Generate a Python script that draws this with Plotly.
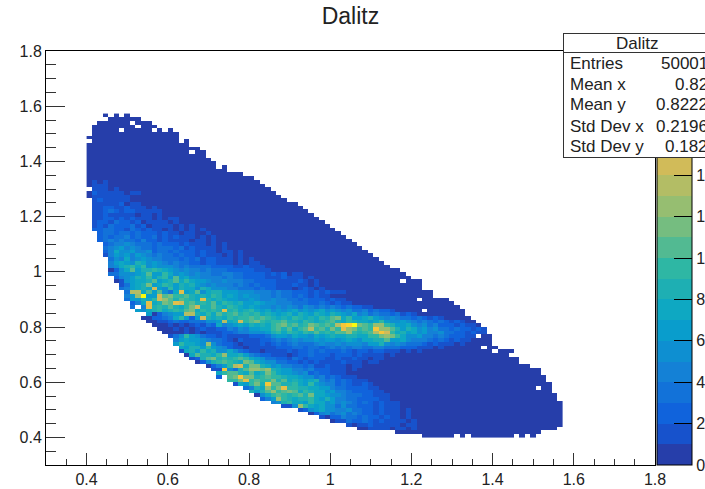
import plotly.graph_objects as go

TITLE = "Dalitz"
X_ORIGIN = 0.4
Y_ORIGIN = 0.4
BIN_WIDTH = 0.013333
N_COLS = 88

# one entry per row of bins, top row first
ROW_FIRST = [3,4,2,1,1,1,0,1,0,0,0,0,0,0,0,0,0,0,0,0,0,0,0,0,1,1,1,1,1,1,1,1,2,2,2,3,3,3,3,4,4,4,4,4,5,5,6,6,7,7,7,8,8,9,11,10,11,12,13,14,15,16,16,17,17,18,19,20,22,23,24,24,26,27,29,30,31,32,34,36,39,41,43,45,48,50,57,62]
ROW_LAST = [7,9,11,12,15,16,16,18,18,20,21,21,22,23,25,26,28,30,31,32,33,34,35,36,38,39,40,41,42,43,44,45,46,47,48,49,50,51,52,53,54,55,57,58,59,61,61,61,63,63,66,67,68,69,69,70,71,72,73,73,74,74,74,75,78,77,79,79,81,83,83,84,84,85,85,85,86,86,87,87,87,87,87,87,87,86,83,82]
# colour level of each bin from ROW_FIRST on: 0-9, a=10 ... j=19; '.' = empty; bins past the string are level 0
ROW_LEVELS = [
"","","","","","","","","","","","","","","","","","",
"0101","01110",".1110100","0211111011","01111111",".12111110",
"11111201100","1122112111010","11232122111110","1121111101101",
"1122121211101011","12213221201111010","1213222312011110101","223322132121101010101",
"233233232221211011001","2323342322312121110101","2343433242212111101101",
"23445433323222121110101","345645433233323121 1 1 1 0 1","24755644523323222121101101",
"1465646543433232212111 0101","3547456544333232312 2111 01 01","46765875654343322122 111 01 011",
"4578979565554343333222211211100","0257a6889876545443433322222111",
"3355567a6697565454433443322221212011","24568796896a6755444434332222111211101",
"0156778a678a79766544544433222211112101","13678b6798687865454443432322211121101",
"346787e6596877587555443332322111012101",
"3dd7a6a537f67a578866655544434332221212111 0",
"46cj66ea b 9 9 a 8 7 8 7 9 8 6 7 6 5 6 5 5 4 4 3 4 3 3 2 3 2 1 2 1 1",
"3668 79ec a8a9 87f8 7876 6556 5445 4433 2322 2121 1",
"2 4 7 f 7 8 b a f e 9 a 8 9 8 a 7 9 8 7 8 6 6 7 6 5 5 4 4 4 3 3 3 2 2 3 2 1 2 1 1",
"3 . 4 f 8 9 8 a 8 7 9 b e 8 8 a 8 7 9 8 7 6 7 6 5 5 4 5 4 5 4 3 5 4 3 4 3 4 3 2 3 2 2 1 1",
"6 5 7 8 9 7 8 9 8 a b 7 9 8 9 8 f 8 9 7 8 9 7 6 7 5 6 5 6 7 5 6 5 6 7 5 6 5 4 5 3 3 4 2 3 2 2 1",
"6 0 2 4 5 6 6 d d 8 7 9 7 a 8 9 a 8 9 8 9 7 8 7 6 7 8 6 8 7 6 8 7 6 8 7 6 5 7 4 5 3 4 3 3 2 3 1 2 1",
"0 0 2 2 3 4 7 9 6 2 6 e 8 7 8 7 9 8 9 9 a 9 a 9 8 7 8 7 9 8 7 8 7 9 8 a b 7 9 6 6 7 8 6 5 4 5 4 3 3 2 3 2 1 2 1",
"0 0 1 1 2 3 2 2 3 3 3 5 5 6 d 7 8 e 9 a b 9 8 9 9 a 8 8 7 9 8 7 8 9 a 8 7 9 8 7 7 6 7 9 6 5 5 6 5 4 3 4 3 2 3 2 1 2 1",
"00010101 2132 7 456768787 9ab9a89ba9a9 dghj ba9cc 9 8 6 6 7 5 4 5 3 4 2 2 2 1 2 1 1",
"000101012112 243546677 9a8a79a d 9a8b9 f c b 9a9 g c c a8687564 5 3 3 2 3 2 2 1 2 1",
"0000101011 1223445556 89798798a898a ac989adge9 7 8 6 7 5 6 4 4 5 3 3 2 2 1 2 1 1",
"135965322 1211112223 5665766576787 7 8 8 7 7 9 9 b c b 9 7 5 5 6 4 4 3 4 3 2 2 2 1 1 1",
"46766543 3210211122 3 4 3 4 5 4 5 5 6 5 6 6 5 6 7 6 5 7 7 8 8 a 6 6 7 5 4 4 4 3 2 3 2 1 2 1 1",
"69776 5c5 3221011121 2 3 2 3 4 3 3 3 4 5 4 4 5 4 5 5 5 4 6 6 8 5 4 5 4 3 3 3 2 1 2 1 1 1 0 1",
"76886965 421101111 1 2 2 2 3 3 2 3 3 2 3 4 3 4 3 4 4 3 3 4 4 3 3 3 2 2 2 1 1 1 0 1",
"1786978557532110111 1 2 1 2 2 3 2 3 2 2 2 3 2 1 2 2 1 2 2 1 1 1 0 1 0 1",
"07a8879c7786432211101 2 2 3 2 2 2 1 2 2 2 1 2 1 1 1 1 0 1",
"1 2 8 a b 8 9 8 9 a 9 7 6 5 3 3 2 2 1 3 2 1 2 2 2 1 1 2 1 1 2 1 1 0 1 1",
"0 2 5 8 9 a 9 8 7 b a 7 6 5 5 3 3 2 2 1 2 1 2 1 1 1 1 2 1 1 1 0 1 1",
"0 2 4 6 9 d e 8 b b 8 7 5 6 4 4 3 3 2 3 1 1 2 1 1 1 0 1 1",
"1 1 g 5 3 8 a c c b c 8 7 6 6 4 4 3 4 2 2 2 1 1 1 0 1",
"7 9 a a 8 7 a 7 8 b 9 7 6 6 5 4 5 2 3 2 2 1 1 1",
"2 . a b g b b 8 9 a 9 9 8 7 7 6 5 5 3 4 2 3 2 1 1 1",
"9 9 b f 9 a 9 9 b 8 a 7 8 7 6 7 8 4 3 4 2 3 2 1 1 1",
"1 7 6 9 b 8 g a a 8 8 9 7 6 9 6 5 4 4 2 3 2 1 1 2 1",
"3 4 8 7 c 9 b f 9 9 8 8 7 7 6 6 4 3 3 2 2 2 2 1 1",
"8 6 8 a c 9 a b a 7 9 8 7 7 5 6 4 4 3 2 2 2 2 1 1",
"0 5 7 9 a 9 8 9 a 8 b 7 7 6 5 5 4 3 3 3 2 2 1 1 1",
"2 4 6 c 9 8 7 8 8 9 7 6 8 6 4 4 3 3 2 2 2 2 1 1",
"4 5 8 9 7 7 6 9 7 7 5 6 4 5 4 3 2 3 2 1 2 1 1 1",
"1 1 5 c 9 7 6 7 5 5 3 5 3 3 2 2 2 1 2 1 1 1",
"1 2 5 6 7 5 5 4 4 5 3 3 2 2 1 2 1 1 1 0 1",
"0 2 4 5 3 4 5 3 4 3 2 2 1 2 1 1 1 0 1",
"1 0 2 2 4 3 3 2 3 2 2 1 2 1 1 0 1",
"0 1 1 3 2 2 3 2 1 2 1 1 1 1 0 1",
"1 0 1 1 2 1 1 1 1 1 0 1 1",
"0 0 1 1 1 1 0 1 1 0 1",
"",""]
# empty bins inside the cloud, as (row from bottom, column)
EMPTY_BINS = [(87,4),(87,6),(85,8),(84,9),(83,6),(83,12),(83,14),(80,17),(77,19),(73,24),(72,26),
              (42,58),(37,61),(34,62),(27,72),(24,73),(23,75),(13,83),
              (0,68),(0,70),(0,79),(0,81)]

Z_MAX = 20
COLOR_TICKS = [0,2,4,6,8,10,12,14,16,18]
X_TICKS = [0.4,0.6,0.8,1,1.2,1.4,1.6,1.8]
Y_TICKS = [0.4,0.6,0.8,1,1.2,1.4,1.6,1.8]
STAT_NAMES = ["Entries","Mean x","Mean y","Std Dev x","Std Dev y"]
STAT_VALUES = ["50001","0.82","0.8222","0.2196","0.182"]

BIRD_R = [0.2082,0.0592,0.0780,0.0232,0.1802,0.5301,0.8186,0.9956,0.9764]
BIRD_G = [0.1664,0.3599,0.5041,0.6419,0.7178,0.7492,0.7328,0.7862,0.9832]
BIRD_B = [0.5293,0.8684,0.8385,0.7914,0.6425,0.4662,0.3499,0.1968,0.0539]

def bird(t):
    p = min(t*8, 7.9999); i = int(p); f = p-i
    return "rgb(%d,%d,%d)" % tuple(round(255*(c[i]+(c[i+1]-c[i])*f)) for c in (BIRD_R,BIRD_G,BIRD_B))

scale = []
for i in range(Z_MAX):
    col = bird((i+1)/Z_MAX)
    scale += [[i/Z_MAX, col], [(i+1)/Z_MAX, col]]

n_rows = len(ROW_FIRST)
grid = [[None]*N_COLS for _ in range(n_rows)]
for idx,(a,b,s) in enumerate(zip(ROW_FIRST,ROW_LAST,ROW_LEVELS)):
    s = s.replace(" ","")
    r = n_rows-1-idx
    for c in range(a,b+1):
        ch = s[c-a] if c-a < len(s) else "0"
        if ch != ".":
            grid[r][c] = int(ch,36)+0.5
for r,c in EMPTY_BINS:
    grid[r][c] = None

xs = [X_ORIGIN+(i+0.5)*BIN_WIDTH for i in range(N_COLS)]
ys = [Y_ORIGIN+(i+0.5)*BIN_WIDTH for i in range(n_rows)]

W,H = 705,489
L,R,T,B = 46.4,655,50.5,465
def px(x): return (x-L)/(R-L)
def py(y): return (B-y)/(B-T)

fig = go.Figure(go.Heatmap(
    x=xs,y=ys,z=grid,zmin=0,zmax=Z_MAX,colorscale=scale,hoverongaps=False,
    colorbar=dict(x=px(657),xanchor="left",xpad=0,ypad=0,y=0,yanchor="bottom",len=1,
                  thickness=35,outlinecolor="black",outlinewidth=1,
                  ticks="inside",ticklen=18,tickcolor="black",tickwidth=1,
                  tickvals=COLOR_TICKS,tickfont=dict(family="Liberation Sans",size=16,color="#222"))
))

axis = dict(range=[0.3,1.8],showgrid=False,zeroline=False,showline=True,linecolor="black",linewidth=1,
            mirror=True,ticks="inside",tickcolor="#333",tickwidth=1,
            tickfont=dict(family="Liberation Sans",size=16,color="#222"))
fig.update_xaxes(**axis,ticklen=12,tickvals=X_TICKS,ticktext=["%g"%v for v in X_TICKS],
                 minor=dict(ticks="inside",ticklen=6,dtick=0.05,tick0=0.3,tickcolor="#333",tickwidth=1,showgrid=False))
fig.update_yaxes(**axis,ticklen=19,tickvals=Y_TICKS,ticktext=["%g"%v for v in Y_TICKS],
                 minor=dict(ticks="inside",ticklen=10,dtick=0.05,tick0=0.3,tickcolor="#333",tickwidth=1,showgrid=False))

font = dict(family="Liberation Sans",size=17,color="#222")
ann = [dict(x=px(563),y=py(32),xanchor="left",yanchor="top",text=" ",width=160,height=123,
            bgcolor="white",bordercolor="#333",borderwidth=1,borderpad=0,showarrow=False,xref="paper",yref="paper"),
       dict(x=px(563),y=py(52),xanchor="left",yanchor="middle",text=" ",width=160,height=1,
            bgcolor="#333",borderwidth=0,borderpad=0,showarrow=False,xref="paper",yref="paper",font=dict(size=1)),
       dict(x=px(638),y=py(43),xanchor="center",yanchor="middle",text=TITLE,font=font,showarrow=False,xref="paper",yref="paper")]
for name,val,yy in zip(STAT_NAMES,STAT_VALUES,[63,84,104,126,146]):
    ann.append(dict(x=px(568),y=py(yy),xanchor="left",yanchor="middle",text=name,font=font,showarrow=False,xref="paper",yref="paper"))
    ann.append(dict(x=px(710),y=py(yy),xanchor="right",yanchor="middle",text=val,font=font,showarrow=False,xref="paper",yref="paper"))

fig.update_layout(width=W,height=H,margin=dict(l=L,r=W-R,t=T,b=H-B,autoexpand=False,pad=0),
                  paper_bgcolor="white",plot_bgcolor="white",annotations=ann,
                  title=dict(text=TITLE,x=0.497,xanchor="center",y=1-16/H,yanchor="middle",
                             font=dict(family="Liberation Sans",size=23,color="#222")))
fig.write_html("out.html",config=dict(displayModeBar=False),
               post_script="document.body.style.margin='0';document.body.style.overflow='hidden';")
